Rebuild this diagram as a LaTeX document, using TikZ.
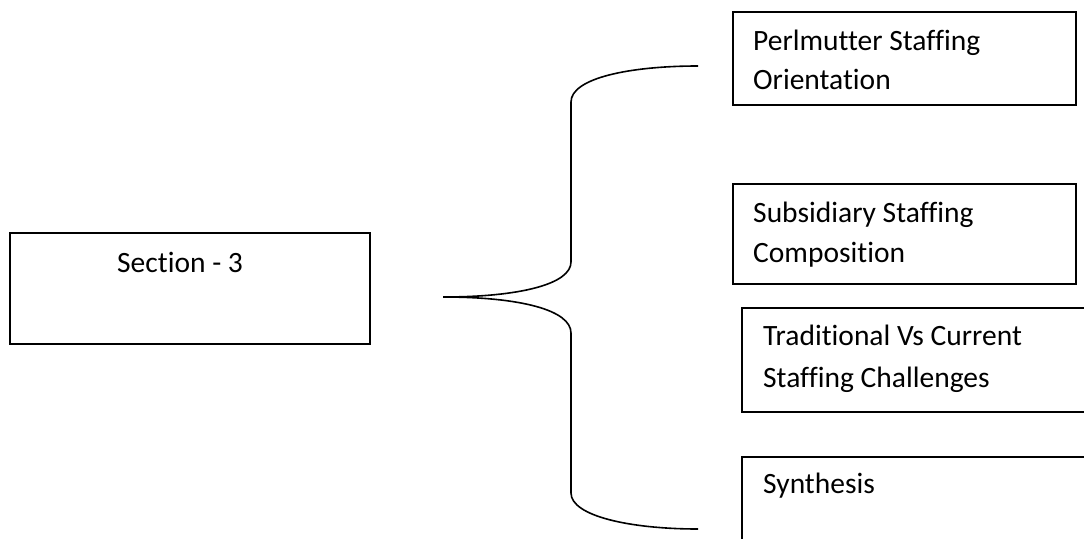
\documentclass[tikz,border=0pt]{standalone}
\usepackage{fontspec}
\setmainfont[Ligatures={CommonOff}]{Carlito}
\begin{document}
\begin{tikzpicture}[x=1pt,y=-1pt,
  box/.style={draw=black,line width=1.3pt},
  lbl/.style={anchor=base west,inner sep=0pt,font=\fontsize{29.5}{34}\selectfont},
  brace/.style={draw=black,line width=1.6pt}]
\useasboundingbox (0,0) rectangle (1084,538);
\clip (0,0) rectangle (1084,538);
% section box
\draw[box] (10,233) rectangle (370,344);
\node[lbl] (sec) at (117,272) {Section - 3};
% right boxes
\draw[box] (733,12) rectangle (1076,105);
\node[lbl] (b1a) at (753,50) {Perlmutter Staffing};
\node[lbl] (b1b) at (753,89) {Orientation};
\draw[box] (733,184) rectangle (1076,284);
\node[lbl] (b2a) at (753,222) {Subsidiary Staffing};
\node[lbl] (b2b) at (753,262) {Composition};
\draw[box] (742,308) rectangle (1100,412);
\node[lbl] (b3a) at (763,345) {Traditional Vs Current};
\node[lbl] (b3b) at (763,387) {Staffing Challenges};
\draw[box] (742,457) rectangle (1100,560);
\node[lbl] (b4a) at (763,493) {Synthesis};
% brace
\coordinate (top) at (698,66);
\coordinate (tip) at (443,297);
\coordinate (bot) at (698,529);
\draw[brace] (top) .. controls (630,66) and (571,78) .. (571,102)
  -- (571,262) .. controls (571,284) and (520,297) .. (tip)
  .. controls (520,297) and (571,310) .. (571,333)
  -- (571,493) .. controls (571,516) and (630,529) .. (bot);
\end{tikzpicture}
\end{document}
